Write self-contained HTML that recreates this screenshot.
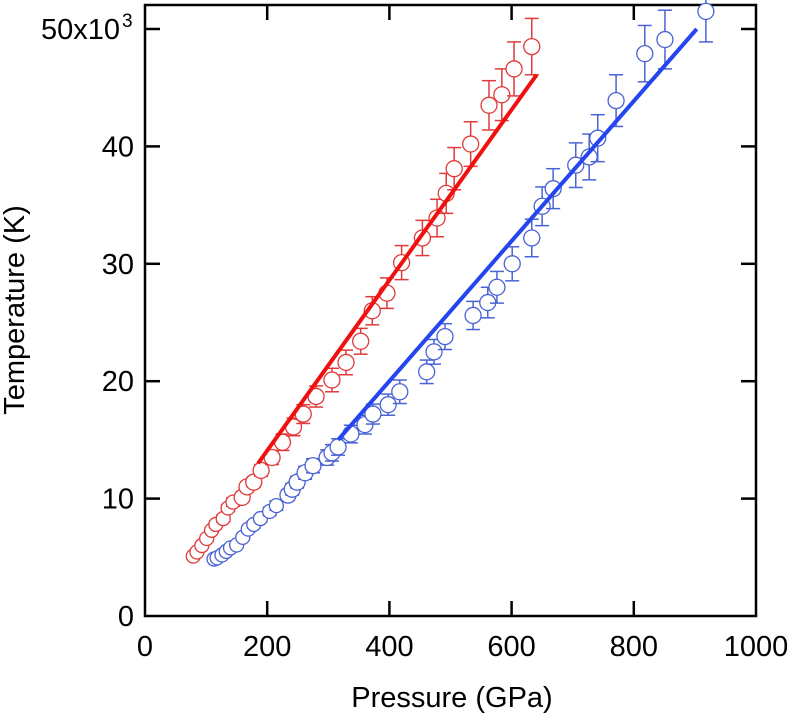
<!DOCTYPE html>
<html><head><meta charset="utf-8"><style>
html,body{margin:0;padding:0;background:#fff;}
svg{display:block;font-family:"Liberation Sans",sans-serif;}
</style></head><body>
<svg id="chart" width="796" height="721" viewBox="0 0 796 721">
<g id="axes"></g>
<g id="marks"></g>
<text x="24" y="310" transform="rotate(-90 24 310)" text-anchor="middle" font-size="29" fill="#000">Temperature (K)</text>
<text x="452" y="707" text-anchor="middle" font-size="29" fill="#000">Pressure (GPa)</text>
</svg>
<script>
const xTicks = [0, 200, 400, 600, 800, 1000];
const yTicks = [0, 10, 20, 30, 40, 50];
const yTickLabels = ["0", "10", "20", "30", "40", "50x10"];
const redP = [79,85,93,101,109,116,128,136,144,159,167,178,190,208,225,243,259,280,306,329,353,372,396,420,454,478,493,506,533,563,584,604,633];
const redT = [5.1,5.45,6.0,6.6,7.3,7.8,8.3,9.2,9.7,10.1,11.0,11.4,12.4,13.5,14.8,16.1,17.2,18.7,20.1,21.6,23.4,26.0,27.5,30.1,32.2,33.9,36.0,38.1,40.2,43.5,44.4,46.6,48.5];
const redErr = [0.1,0.1,0.15,0.2,0.2,0.25,0.3,0.3,0.35,0.4,0.4,0.45,0.5,0.6,0.7,0.75,0.8,0.9,1.0,1.05,1.1,1.2,1.3,1.45,1.5,1.6,1.7,1.8,1.9,2.1,2.2,2.3,2.4];
const redFitP = [185, 641];
const redFitT = [13.0, 46.1];
const blueP = [113,118,126,133,140,150,160,169,178,189,204,215,234,241,249,262,275,298,306,316,337,360,373,398,417,461,473,491,537,561,576,601,633,650,668,705,727,741,771,818,851,918];
const blueT = [4.85,4.95,5.2,5.5,5.8,6.05,6.7,7.4,7.8,8.3,8.9,9.4,10.3,10.8,11.4,12.2,12.8,13.5,13.9,14.4,15.5,16.3,17.2,18.0,19.1,20.8,22.5,23.8,25.6,26.7,28.0,30.0,32.2,34.9,36.4,38.4,39.1,40.7,43.9,47.9,49.1,51.5];
const blueErr = [0.1,0.1,0.1,0.15,0.15,0.2,0.2,0.25,0.3,0.3,0.35,0.4,0.45,0.5,0.5,0.55,0.6,0.65,0.7,0.7,0.75,0.8,0.85,0.9,1.0,1.0,1.05,1.1,1.2,1.3,1.35,1.45,1.6,1.65,1.7,1.9,1.95,2.0,2.2,2.4,2.5,2.6];
const blueFitP = [316, 903];
const blueFitT = [15.0, 50.0];

const X0=145, X1=756, Y0=616, Ytop=5;
const sx = p => X0 + p*(X1-X0)/1000;
const sy = t => Y0 - t*11.74;
const NS="http://www.w3.org/2000/svg";
function mk(tag, attrs, parent){const e=document.createElementNS(NS,tag);for(const k in attrs)e.setAttribute(k,attrs[k]);parent.appendChild(e);return e;}
const axes=document.getElementById('axes'), marks=document.getElementById('marks');

const frame=mk('rect',{x:X0,y:Ytop,width:X1-X0,height:Y0-Ytop,fill:'none',stroke:'#000','stroke-width':2.5},axes);


xTicks.forEach(v=>{
  const x=sx(v);
  if(v>0&&v<1000){
    const t1=mk('line',{x1:x,y1:Y0,x2:x,y2:Y0-15,stroke:'#000','stroke-width':2.5},axes);
    
    
    const t2=mk('line',{x1:x,y1:Ytop,x2:x,y2:Ytop+15,stroke:'#000','stroke-width':2.5},axes);
    
    
  }
  const lb=mk('text',{x:x,y:656,'text-anchor':'middle','font-size':29,fill:'#000'},axes);
  lb.textContent=String(v);
  
  
});
yTicks.forEach((v,i)=>{
  const y=sy(v);
  if(v>0){
    const t1=mk('line',{x1:X0,y1:y,x2:X0+15,y2:y,stroke:'#000','stroke-width':2.5},axes);
    
    
    const t2=mk('line',{x1:X1,y1:y,x2:X1-15,y2:y,stroke:'#000','stroke-width':2.5},axes);
    
    
  }
  const lb=mk('text',{x:i===5?120:134,y:y+10,'text-anchor':'end','font-size':29,fill:'#000'},axes);
  lb.textContent=yTickLabels[i];
  
  
  if(i===5){
    const sup=mk('text',{x:122,y:y-2,'text-anchor':'start','font-size':19,fill:'#000'},axes);
    sup.textContent='3';
    
    
  }
});

function series(P,T,E,FP,FT,mcol,lcol,name){
  P.forEach((p,i)=>{
    const x=sx(p), y=sy(T[i]), e=E[i]*11.74;
    const g=mk('g',{},marks);
    
    
    mk('line',{x1:x,y1:y-e,x2:x,y2:y+e,stroke:mcol,'stroke-width':1.5},g);
    mk('line',{x1:x-7,y1:y-e,x2:x+7,y2:y-e,stroke:mcol,'stroke-width':1.5},g);
    mk('line',{x1:x-7,y1:y+e,x2:x+7,y2:y+e,stroke:mcol,'stroke-width':1.5},g);
    mk('circle',{cx:x,cy:y,r:T[i]<10?7:8,fill:'#fff',stroke:mcol,'stroke-width':1.3},g);
  });
  const fit=mk('line',{x1:sx(FP[0]),y1:sy(FT[0]),x2:sx(FP[1]),y2:sy(FT[1]),stroke:lcol,'stroke-width':4},marks);
  
  
}
series(redP,redT,redErr,redFitP,redFitT,'#e03a3a','#f01010','red');
series(blueP,blueT,blueErr,blueFitP,blueFitT,'#4a63d4','#2545ee','blue');
</script>
</body></html>
